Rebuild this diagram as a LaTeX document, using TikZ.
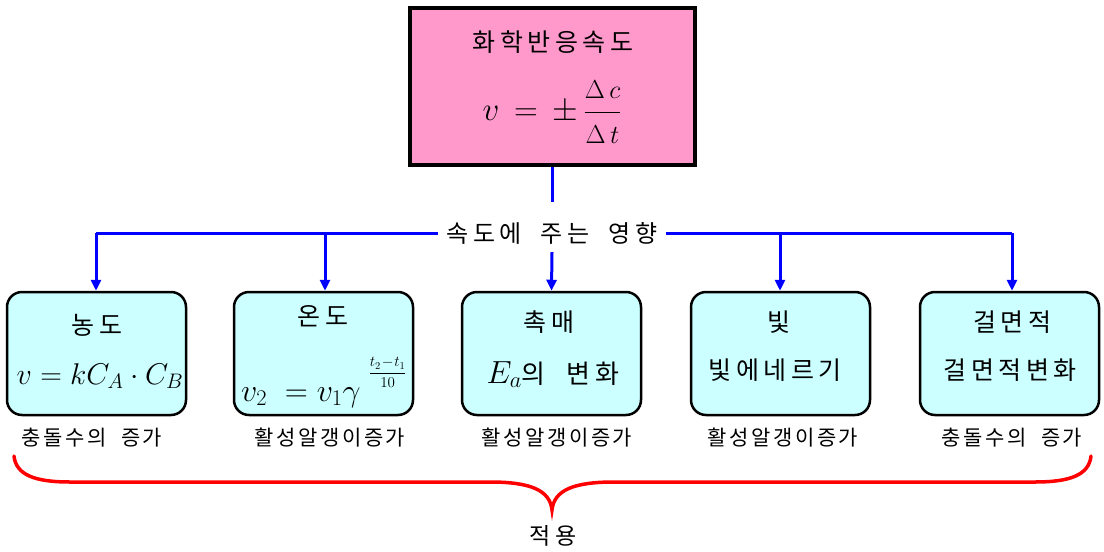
\RequirePackage{fix-cm}
\documentclass[tikz,border=0pt]{standalone}
\usepackage{amsmath}
\usepackage{fontspec}
\newfontfamily\kr[LetterSpace=18]{Noto Sans CJK KR}
\newfontfamily\krl[LetterSpace=12]{Noto Sans CJK KR}
\usetikzlibrary{arrows.meta}
\definecolor{topfill}{RGB}{255,153,204}
\definecolor{boxfill}{RGB}{204,255,255}
\definecolor{linkblue}{RGB}{0,0,255}
\newcommand{\fracpart}[1]{\mbox{\fontsize{26}{30}\selectfont$#1$}}
\tikzset{
  topbox/.style={draw=black, line width=4pt, fill=topfill, minimum width=285pt, minimum height=157pt, inner sep=0pt},
  factor/.style={draw=black, line width=2.5pt, fill=boxfill, rounded corners=15pt, minimum width=179pt, minimum height=123pt, inner sep=0pt},
  head/.style={font=\kr\fontsize{25}{28}\selectfont, inner sep=0pt},
  formula/.style={font=\fontsize{30}{36}\selectfont, inner sep=0pt},
  lbl/.style={font=\krl\fontsize{21}{24}\selectfont, inner sep=1pt},
  link/.style={linkblue, line width=3pt},
  linkarrow/.style={linkblue, line width=3pt, -{Triangle[width=10pt,length=11pt]}},
  bracepath/.style={red, line width=3.5pt, line cap=round}
}
\begin{document}
\begin{tikzpicture}[x=1pt,y=-1pt]
\useasboundingbox (0,0) rectangle (1104,552);
% top box
\node[topbox] (top) at (552.5,86.5) {};
\node[head] (toptitle) at (553,42) {화학반응속도};
\node[formula, font=\fontsize{33}{40}\selectfont] (topformula) at (552,112) {$v \,=\, \pm\,\dfrac{\fracpart{\Delta\, c}}{\fracpart{\Delta\, t}}$};
% influence label
\node[font=\kr\fontsize{24}{28}\selectfont, inner sep=8pt] (infl) at (552,233) {속도에\ \ 주는\ \ 영향};
\coordinate (hl) at (96,233);
\coordinate (hl2) at (325,233);
\coordinate (hr2) at (780,233);
\coordinate (hr) at (1012,233);
% factor boxes
\node[factor] (b1) at (96.5,353.5) {};
\node[factor] (b2) at (323.5,353.5) {};
\node[factor] (b3) at (551.5,353.5) {};
\node[factor] (b4) at (780.5,353.5) {};
\node[factor] (b5) at (1009.5,353.5) {};
\node[head] (t1) at (97,325) {농도};
\node[formula, anchor=base] (f1) at (100,384) {$v = kC_{A}\cdot C_{B}$};
\node[head] (t2) at (323,316) {온도};
\node[formula, font=\fontsize{32}{38}\selectfont, anchor=base west] (f2) at (241,401) {$v_2\; = v_1\gamma$\hspace{8pt}\raisebox{24pt}{\fontsize{15}{18}\selectfont$\dfrac{t_2\!-\!t_1}{10}$}};
\node[head] (t3) at (549,322) {촉매};
\node[formula, font=\fontsize{32}{38}\selectfont, anchor=base] (f3) at (553,383) {$E_a${\kr\fontsize{26}{28}\selectfont 의\ \ 변화}};
\node[head] (t4) at (779,322) {빛};
\node[head] (f4) at (775,370) {빛에네르기};
\node[head] (t5) at (1012,322) {걸면적};
\node[head] (f5) at (1010,370) {걸면적변화};
% result labels
\node[lbl] (l1) at (92,438) {충돌수의\ \ 증가};
\node[lbl] (l2) at (330,438) {활성알갱이증가};
\node[lbl] (l3) at (557,438) {활성알갱이증가};
\node[lbl] (l4) at (783,438) {활성알갱이증가};
\node[lbl] (l5) at (1012,438) {충돌수의\ \ 증가};
\node[font=\kr\fontsize{23}{26}\selectfont] (apply) at (553,536) {적용};
% connectors
\draw[link] (top.south) -- ++(0,35);
\draw[link] (infl.west) -- (hl);
\draw[link] (infl.east) -- (hr);
\draw[linkarrow] (hl) -- (hl |- b1.north);
\draw[linkarrow] (hl2) -- (hl2 |- b2.north);
\draw[linkarrow] (infl.south) -- (b3.north);
\draw[linkarrow] (hr2) -- (hr2 |- b4.north);
\draw[linkarrow] (hr) -- (hr |- b5.north);
% brace
\coordinate (bl) at (14,456);
\coordinate (br) at (1091,456);
\coordinate (btip) at (552,510);
\draw[bracepath] (bl) .. controls (16,475) and (35,482) .. (70,482) -- (490,482)
  .. controls (530,482) and (550,490) .. (btip)
  .. controls (554,490) and (574,482) .. (614,482) -- (1035,482)
  .. controls (1070,482) and (1089,475) .. (br);
\end{tikzpicture}
\end{document}
